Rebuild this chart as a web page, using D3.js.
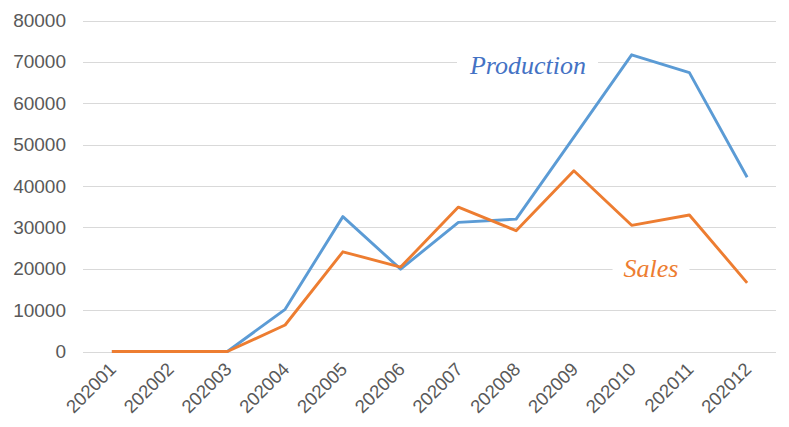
<!DOCTYPE html>
<html>
<head>
<meta charset="utf-8">
<script src="https://cdn.jsdelivr.net/npm/d3@7"></script>
<style>
  html, body { margin: 0; padding: 0; background: #fff; }
  svg { display: block; }
</style>
</head>
<body>
<svg id="chart" width="789" height="427"></svg>
<script>
// Monthly categories
const months = ["202001","202002","202003","202004","202005","202006",
                "202007","202008","202009","202010","202011","202012"];
// Series values
const production = [0, 0, 0, 10200, 32600, 19900, 31200, 32000, 51800, 71700, 67400, 42100];
const sales      = [0, 0, 0, 6400, 24100, 20400, 34900, 29200, 43700, 30500, 33000, 16600];
// Y-axis ticks
const yTicks = [0, 10000, 20000, 30000, 40000, 50000, 60000, 70000, 80000];

(function draw() {
  const svg = d3.select("#chart");
  const plotLeft = 83, plotRight = 776, plotTop = 20.5, plotBottom = 351.5;

  const x = d3.scalePoint().domain(months).range([plotLeft, plotRight]).padding(0.5);
  const y = d3.scaleLinear().domain([0, 80000]).range([plotBottom, plotTop]);

  // Horizontal gridlines
  svg.append("g")
    .selectAll("line").data(yTicks).join("line")
    .attr("x1", plotLeft).attr("x2", plotRight)
    .attr("y1", d => Math.round(y(d)) + 0.5).attr("y2", d => Math.round(y(d)) + 0.5)
    .attr("stroke", "#d9d9d9").attr("stroke-width", 1);

  // Y axis labels
  const yAxis = svg.append("g")
    .attr("transform", `translate(${plotLeft},0)`)
    .call(d3.axisLeft(y).tickValues(yTicks).tickSize(0).tickPadding(17).tickFormat(d3.format("d")));
  yAxis.select(".domain").remove();
  yAxis.selectAll("text")
    .attr("font-family", "Liberation Sans, Arial, sans-serif")
    .attr("font-size", 19).attr("fill", "#595959");

  // X axis labels, rotated
  const xAxis = svg.append("g")
    .attr("transform", `translate(0,${plotBottom})`)
    .call(d3.axisBottom(x).tickSize(0).tickPadding(0));
  xAxis.select(".domain").remove();
  xAxis.selectAll("text")
    .attr("font-family", "Liberation Sans, Arial, sans-serif")
    .attr("font-size", 18.5).attr("fill", "#595959")
    .attr("text-anchor", "end")
    .attr("dy", null).attr("y", 0)
    .attr("transform", "translate(5,19) rotate(-45)");

  // Lines
  const line = d3.line().x((d, i) => x(months[i])).y(d => y(d));
  svg.append("path").datum(production)
    .attr("fill", "none").attr("stroke", "#5B9BD5").attr("stroke-width", 2.9)
    .attr("stroke-linejoin", "round").attr("d", line);
  svg.append("path").datum(sales)
    .attr("fill", "none").attr("stroke", "#ED7D31").attr("stroke-width", 2.9)
    .attr("stroke-linejoin", "round").attr("d", line);

  // Series name labels with white backing
  function seriesLabel(text, cx, baseline, color, padX) {
    const g = svg.append("g");
    const rect = g.append("rect").attr("fill", "#fff");
    const t = g.append("text")
      .attr("x", cx).attr("y", baseline)
      .attr("text-anchor", "middle")
      .attr("font-family", "Liberation Serif, Times New Roman, serif")
      .attr("font-style", "italic")
      .attr("font-size", 26)
      .attr("fill", color)
      .text(text);
    const b = t.node().getBBox();
    rect.attr("x", b.x - padX).attr("y", b.y).attr("width", b.width + 2 * padX).attr("height", b.height);
  }
  seriesLabel("Production", 528, 74, "#4472C4", 12);
  seriesLabel("Sales", 651, 277, "#ED7D31", 11);
})();
</script>
</body>
</html>
